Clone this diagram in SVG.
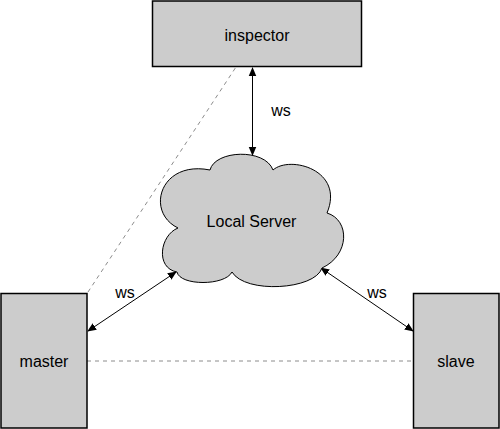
<svg xmlns="http://www.w3.org/2000/svg" width="500" height="429" viewBox="0 0 500 429">
<style>
.box{fill:#cccccc;stroke:#000;stroke-width:1.5}
.cloud{fill:#cccccc;stroke:#000;stroke-width:1}
.lbl{font-family:"Liberation Sans",Arial,sans-serif;font-size:16px;fill:#000;text-anchor:middle}
.dash{stroke:#8c8c8c;stroke-width:1;stroke-dasharray:4 4;fill:none}
.arr{stroke:#000;stroke-width:1;fill:none;marker-start:url(#ah);marker-end:url(#ah)}
</style>
<defs>
<marker id="ah" viewBox="0 0 10 10" refX="9" refY="5" markerWidth="9" markerHeight="9" markerUnits="userSpaceOnUse" orient="auto-start-reverse">
<path d="M0,0.8 L10,5 L0,9.2 Z" fill="#000"/>
</marker>
</defs>
<g id="connectors">
<line class="dash" x1="87" y1="361" x2="413" y2="361"/>
<line class="dash" x1="88" y1="292" x2="236" y2="67"/>
<line class="arr" x1="252.5" y1="68" x2="252.5" y2="155"/>
<line class="arr" x1="88" y1="331" x2="176" y2="272"/>
<line class="arr" x1="321" y1="268" x2="413" y2="331"/>
<text class="lbl" x="281" y="116">ws</text>
<text class="lbl" x="125" y="298">ws</text>
<text class="lbl" x="377" y="298">ws</text>
</g>
<g id="inspector">
<rect class="box" x="152.5" y="1" width="209" height="65.5"/>
<text class="lbl" x="257" y="41">inspector</text>
</g>
<g id="local-server">
<path class="cloud" d="M210,170 C215,150 265,148 273,170 C290,155 345,170 327,213 C350,220 350,255 322,268 C315,290 245,294 232,272 C225,286 180,286 177,272 C155,268 160,235 178,228 C145,212 160,160 210,170 Z"/>
<text class="lbl" x="251.5" y="227">Local Server</text>
</g>
<g id="master">
<rect class="box" x="1" y="293.5" width="86" height="134.5"/>
<text class="lbl" x="44" y="367">master</text>
</g>
<g id="slave">
<rect class="box" x="413.5" y="293.5" width="85.5" height="134.5"/>
<text class="lbl" x="456" y="367">slave</text>
</g>
</svg>
